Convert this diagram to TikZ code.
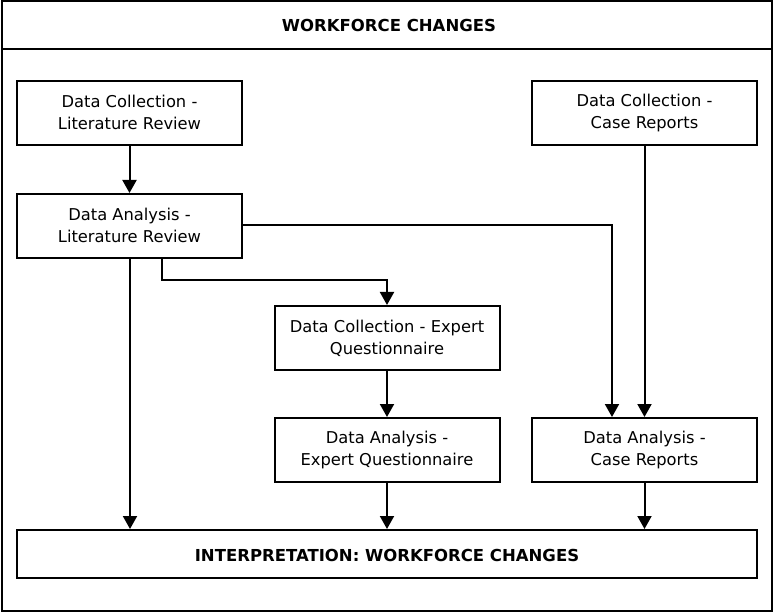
\documentclass[tikz,border=0pt]{standalone}
\usepackage{fontspec}
\setmainfont{DejaVu Sans}
\usetikzlibrary{arrows.meta}
\begin{document}
\begin{tikzpicture}[x=1pt,y=-1pt,
  stepbox/.style={draw,line width=2pt,rectangle,minimum width=225pt,minimum height=64pt,align=center,inner sep=0pt,font=\fontsize{16.3}{22}\selectfont,execute at begin node=\rule{0pt}{17pt},execute at end node=\rule[-2.2pt]{0pt}{2.2pt}},
  conn/.style={line width=2pt,-{Triangle[width=14pt,length=13pt]}}]
\useasboundingbox (0,0) rectangle (774,612);
\draw[line width=2pt] (1.5,1.5) rectangle (772,610.5);
\draw[line width=2pt] (1.5,49) -- (772,49);
\node[font=\fontsize{16.5}{20}\selectfont\bfseries] (title) at (389,25) {WORKFORCE CHANGES};
\node[stepbox] (dclr) at (129.5,113.5) {Data Collection -\\Literature Review};
\node[stepbox] (dalr) at (129.5,226) {Data Analysis -\\Literature Review};
\node[stepbox] (dccr) at (644.5,113.5) {Data Collection -\\Case Reports};
\node[stepbox] (dceq) at (387,338) {Data Collection - Expert\\Questionnaire};
\node[stepbox] (daeq) at (387,450) {Data Analysis -\\Expert Questionnaire};
\node[stepbox] (dacr) at (644.5,450) {Data Analysis -\\Case Reports};
\node[stepbox,minimum width=740pt,minimum height=48pt,font=\fontsize{16.5}{20}\selectfont\bfseries] (interp) at (387,554) {INTERPRETATION: WORKFORCE CHANGES};
\draw[conn] (dclr) -- (dalr);
\draw[conn] (dalr.south) ++(0.5,0) coordinate (a1) (a1) -- (a1 |- interp.north);
\draw[conn] (dalr.south -| 162,0) |- (387,280) -- (dceq.north);
\draw[conn] (dalr.east |- 0,225) -| (dacr.north -| 612,0);
\draw[conn] (dccr) -- (dacr);
\draw[conn] (dceq) -- (daeq);
\draw[conn] (daeq) -- (daeq |- interp.north);
\draw[conn] (dacr) -- (dacr |- interp.north);
\end{tikzpicture}
\end{document}
